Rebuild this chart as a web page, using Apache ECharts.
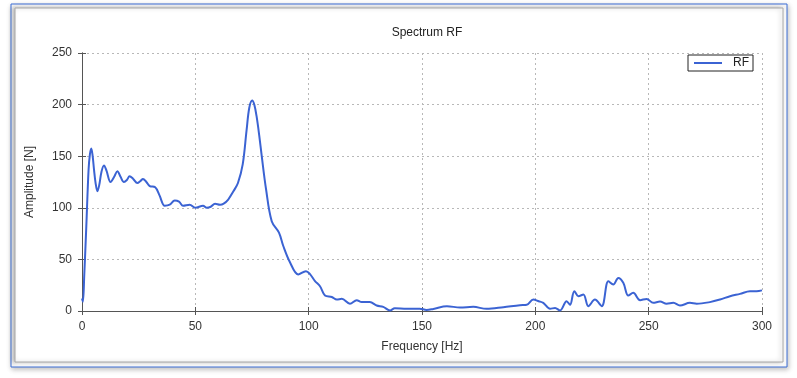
<!DOCTYPE html>
<html>
<head>
<meta charset="utf-8">
<script src="https://cdn.jsdelivr.net/npm/echarts@6/dist/echarts.min.js"></script>
<style>
html,body{margin:0;padding:0;background:#fff;}
#main{width:797px;height:378px;}
</style>
</head>
<body>
<div id="main"></div>
<script>
// frequency axis [Hz]
var freq = [0, 0.4, 1.0, 1.9, 2.9, 3.5, 4.1, 4.7, 5.3, 6.0, 6.8, 7.6, 8.6, 9.7, 10.8, 12.6, 14.2, 15.6, 17.0, 18.5, 19.8, 21.0, 22.6, 24.4, 25.8, 26.9, 28.4, 29.9, 32.3, 34.2, 36.5, 38.7, 40.9, 42.8, 44.6, 47.5, 50.0, 53.4, 55.0, 56.8, 58.7, 60.9, 62.5, 64.5, 66.8, 68.8, 70.9, 72.6, 73.8, 75.1, 76.0, 77.0, 78.2, 79.3, 81.2, 83.7, 86.9, 88.8, 91.8, 95.4, 98.8, 100.5, 102.8, 105.0, 107.2, 110.2, 112.4, 114.6, 118.2, 121.2, 123.4, 127.0, 130.0, 132.9, 135.9, 138.0, 143.2, 149.0, 152.0, 155.0, 161.0, 166.8, 172.6, 178.5, 185.9, 193.2, 196.2, 199.1, 201.5, 203.5, 206.5, 208.7, 210.9, 213.8, 215.3, 217.2, 219.0, 221.2, 223.4, 226.3, 229.3, 232.2, 234.4, 236.6, 238.8, 241.0, 243.2, 246.2, 249.1, 252.0, 255.0, 257.9, 260.9, 263.8, 268.2, 271.2, 277.0, 281.5, 285.9, 290.3, 294.7, 297.6, 300];
// amplitude [N]
var amp = [12, 9, 35, 82, 137, 152, 157.5, 150, 137, 124, 116, 122, 135, 141, 136, 125, 130, 135.5, 130, 125, 127, 130.6, 128, 124, 126, 128, 125, 121, 120, 112, 102, 103, 107, 106, 102, 103, 100, 102, 100, 101, 104, 103, 104, 108, 116, 124, 142, 175, 197, 204, 200, 189, 170, 150, 118, 87, 76, 63, 47, 35.4, 38.6, 36, 29, 24, 15, 13.6, 11.1, 11.8, 7, 10.5, 8.6, 8.6, 5.3, 4, 0.5, 2.7, 2.3, 2.3, 1, 2, 4.5, 3.5, 4, 2.1, 3.7, 5.6, 6, 11.1, 9.5, 7.9, 2.1, 3, 0.5, 9.5, 6, 19.2, 14.4, 16, 4.7, 11.1, 4.7, 28.9, 25.7, 32, 27.3, 15, 17.6, 10.5, 11.7, 7.9, 9.2, 7, 7.9, 5.3, 7.9, 7, 8.6, 11.1, 14.3, 16.6, 19.2, 19.2, 20];
var xTicks = [0, 50, 100, 150, 200, 250, 300];
var yTicks = [0, 50, 100, 150, 200, 250];

var points = [];
for (var i = 0; i < freq.length; i++) {
	points.push([freq[i], amp[i]]);
}

var chart = echarts.init(document.getElementById('main'));

var gridLine = { show: true, lineStyle: { color: '#b8b8b8', type: [2, 3], width: 1 } };
var labelFont = { color: '#333', fontSize: 12, fontFamily: 'Liberation Sans, Arial, sans-serif' };

var option = {
	backgroundColor: '#fff',
	animation: false,
	graphic: [
		// outer blue frame with a soft shadow
		{ type: 'rect', shape: { x: 11, y: 4, width: 776, height: 363 }, style: { fill: '#fff', stroke: '#3d6fd6', lineWidth: 1, shadowBlur: 5, shadowColor: 'rgba(0,0,0,0.25)', shadowOffsetX: 1, shadowOffsetY: 2 }, z: -10 },
		// inner grey panel
		{ type: 'rect', shape: { x: 15, y: 8, width: 768, height: 354 }, style: { fill: '#fff', stroke: '#a8a8a8', lineWidth: 1, shadowBlur: 4, shadowColor: 'rgba(0,0,0,0.25)', shadowOffsetX: -2, shadowOffsetY: 0 }, z: -9 }
	],
	title: {
		text: 'Spectrum RF',
		left: 422,
		top: 22,
		textAlign: 'center',
		textStyle: { fontSize: 12, fontWeight: 'normal', color: '#222', fontFamily: 'Liberation Sans, Arial, sans-serif' }
	},
	legend: {
		data: ['RF'],
		right: 44,
		top: 55,
		padding: [2, 4, 2, 6],
		itemWidth: 28,
		itemHeight: 2,
		itemGap: 4,
		borderColor: '#222',
		borderWidth: 1,
		borderRadius: 0,
		backgroundColor: '#fff',
		icon: 'rect',
		textStyle: { fontSize: 12, color: '#222', padding: [0, 0, 0, 6] }
	},
	grid: { left: 82, right: 35, top: 53, bottom: 67, show: false },
	xAxis: [{
		type: 'value',
		min: 0, max: 300, interval: 50,
		name: 'Frequency [Hz]',
		nameLocation: 'middle',
		nameGap: 30,
		nameTextStyle: labelFont,
		axisLine: { show: true, onZero: false, lineStyle: { color: '#555', width: 1 } },
		axisTick: { show: true, inside: true, length: 4, lineStyle: { color: '#555' } },
		axisLabel: Object.assign({ margin: 10, formatter: function (v) { return xTicks.indexOf(v) >= 0 ? v : ''; } }, labelFont),
		splitLine: gridLine
	}, {
		type: 'value',
		position: 'top',
		min: 0, max: 300, interval: 50,
		axisLine: { show: true, lineStyle: { color: '#555', width: 1 } },
		axisTick: { show: true, inside: true, length: 4, lineStyle: { color: '#555' } },
		axisLabel: { show: false },
		splitLine: { show: false }
	}],
	yAxis: [{
		type: 'value',
		min: 0, max: 250, interval: 50,
		name: 'Amplitude [N]',
		nameLocation: 'middle',
		nameGap: 46,
		nameTextStyle: labelFont,
		axisLine: { show: true, lineStyle: { color: '#555', width: 1 } },
		axisTick: { show: true, inside: true, length: 4, lineStyle: { color: '#555' } },
		axisLabel: Object.assign({ margin: 10, formatter: function (v) { return yTicks.indexOf(v) >= 0 ? v : ''; } }, labelFont),
		splitLine: gridLine
	}, {
		type: 'value',
		position: 'right',
		min: 0, max: 250, interval: 50,
		axisLine: { show: true, lineStyle: { color: '#555', width: 1 } },
		axisTick: { show: true, inside: true, length: 4, lineStyle: { color: '#555' } },
		axisLabel: { show: false },
		splitLine: { show: false }
	}],
	series: [{
		name: 'RF',
		type: 'line',
		data: points,
		showSymbol: false,
		smooth: 0.35,
		lineStyle: { color: '#3b63d3', width: 2 },
		itemStyle: { color: '#3b63d3' }
	}]
};

chart.setOption(option);
</script>
</body>
</html>
